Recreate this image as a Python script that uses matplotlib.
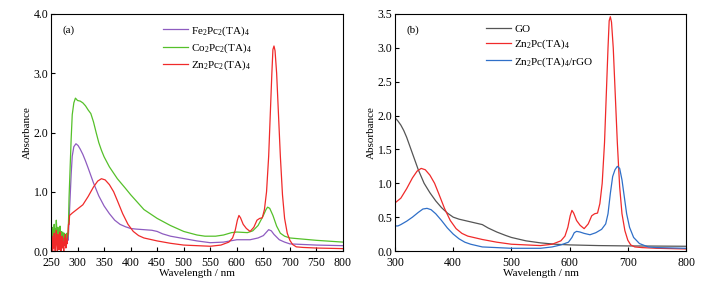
import numpy as np
import matplotlib.pyplot as plt

plt.rcParams["font.family"] = ["Liberation Serif", "DejaVu Serif"]
plt.rcParams["mathtext.fontset"] = "custom"
plt.rcParams["mathtext.rm"] = "Liberation Serif"

# ── Panel (a) data ────────────────────────────────────────────────────────────
wl_noise = [250, 251, 252, 253, 254, 255, 256, 257, 258, 259, 260, 261, 262, 263, 264, 265, 266,
            267, 268, 269, 270, 271, 272, 273, 274, 275, 276, 277, 278, 279, 280, 281, 282, 283]
fe_noise = [0.32, 0.18, 0.25, 0.12, 0.28, 0.2, 0.15, 0.3, 0.22, 0.1, 0.26, 0.33, 0.18, 0.24, 0.12,
            0.3, 0.2, 0.26, 0.14, 0.22, 0.3, 0.12, 0.2, 0.27, 0.15, 0.24, 0.1, 0.22, 0.28, 0.14, 0.2,
            0.26, 0.18, 0.3]
co_noise = [0.55, 0.3, 0.4, 0.22, 0.35, 0.28, 0.45, 0.25, 0.38, 0.3, 0.52, 0.35, 0.28, 0.4, 0.22,
            0.36, 0.3, 0.42, 0.25, 0.33, 0.28, 0.2, 0.32, 0.26, 0.18, 0.3, 0.22, 0.28, 0.2, 0.26,
            0.3, 0.22, 0.28, 0.5]
zn_noise = [0.45, 0.1, 0.25, 0.0, 0.2, 0.05, 0.3, 0.12, 0.0, 0.22, 0.35, 0.1, 0.0, 0.28, 0.15,
            0.02, 0.2, 0.32, 0.08, 0.0, 0.18, 0.25, 0.05, 0.15, 0.0, 0.22, 0.1, 0.28, 0.05, 0.2,
            0.12, 0.25, 0.3, 0.45]

wl_fe = [284, 286, 288, 290, 293, 297, 301, 305, 310, 315, 320, 330, 340, 350, 360, 370, 380, 390,
         400, 410, 425, 440, 450, 460, 475, 500, 525, 550, 575, 600, 625, 640, 650, 655, 660, 665,
         670, 680, 690, 700, 750, 800]
fe_abs = [0.5, 0.9, 1.3, 1.6, 1.76, 1.81, 1.78, 1.72, 1.63, 1.52, 1.4, 1.15, 0.93, 0.76, 0.63, 0.52,
          0.45, 0.41, 0.38, 0.37, 0.36, 0.35, 0.33, 0.29, 0.25, 0.21, 0.17, 0.14, 0.15, 0.19, 0.19,
          0.22, 0.26, 0.31, 0.36, 0.34, 0.28, 0.19, 0.15, 0.12, 0.1, 0.09]

wl_co = [284, 286, 288, 290, 293, 296, 300, 305, 310, 315, 320, 325, 330, 335, 340, 345, 350, 360,
         375, 390, 400, 410, 425, 440, 450, 475, 500, 525, 540, 560, 575, 590, 600, 620, 630, 640,
         650, 655, 658, 662, 668, 675, 682, 690, 700, 725, 750, 800]
co_abs = [0.9, 1.4, 1.9, 2.3, 2.5, 2.58, 2.54, 2.53, 2.5, 2.45, 2.38, 2.32, 2.18, 2.0, 1.83, 1.7,
          1.59, 1.42, 1.22, 1.06, 0.95, 0.85, 0.7, 0.61, 0.55, 0.43, 0.33, 0.27, 0.25, 0.25, 0.27,
          0.31, 0.32, 0.31, 0.34, 0.43, 0.6, 0.7, 0.74, 0.72, 0.6, 0.42, 0.3, 0.25, 0.22, 0.2, 0.18,
          0.15]

wl_zn = [284, 285, 290, 300, 310, 320, 330, 338, 345, 352, 360, 368, 375, 385, 395, 405, 415, 425,
         450, 475, 500, 525, 550, 570, 585, 592, 597, 601, 604, 607, 612, 618, 625, 632, 638, 643,
         648, 652, 656, 660, 663, 666, 668, 670, 672, 675, 678, 682, 686, 690, 695, 700, 705, 712,
         725, 750, 800]
zn_abs = [0.45, 0.6, 0.64, 0.71, 0.78, 0.92, 1.08, 1.18, 1.22, 1.2, 1.12, 1.0, 0.85, 0.63, 0.45,
          0.33, 0.26, 0.22, 0.17, 0.13, 0.1, 0.09, 0.08, 0.1, 0.15, 0.22, 0.35, 0.52, 0.6, 0.56,
          0.45, 0.38, 0.33, 0.4, 0.52, 0.55, 0.56, 0.7, 1.0, 1.6, 2.3, 3.0, 3.4, 3.46, 3.38, 3.0,
          2.4, 1.6, 0.95, 0.55, 0.3, 0.18, 0.11, 0.07, 0.06, 0.05, 0.04]

# ── Panel (b) data ────────────────────────────────────────────────────────────
wl_go = [300, 305, 310, 315, 320, 325, 330, 335, 340, 345, 350, 360, 370, 380, 390, 400, 410, 425,
         440, 450, 460, 475, 490, 500, 525, 550, 575, 600, 650, 700, 800]
go_abs = [1.97, 1.92, 1.86, 1.78, 1.68, 1.56, 1.44, 1.32, 1.2, 1.1, 1.0, 0.86, 0.74, 0.64, 0.56,
          0.5, 0.47, 0.44, 0.41, 0.39, 0.34, 0.28, 0.23, 0.2, 0.15, 0.12, 0.1, 0.09, 0.08, 0.075,
          0.07]

wl_zn_b = [300, 310, 320, 330, 338, 345, 352, 360, 368, 375, 385, 395, 405, 415, 425, 450, 475,
           500, 525, 550, 570, 585, 592, 597, 601, 604, 607, 612, 618, 625, 632, 638, 643, 648,
           652, 656, 660, 663, 666, 668, 670, 672, 675, 678, 682, 686, 690, 695, 700, 705, 712,
           725, 750, 800]
zn_abs_b = [0.71, 0.78, 0.92, 1.08, 1.18, 1.22, 1.2, 1.12, 1.0, 0.85, 0.63, 0.45, 0.33, 0.26,
            0.22, 0.17, 0.13, 0.1, 0.09, 0.08, 0.1, 0.15, 0.22, 0.35, 0.52, 0.6, 0.56, 0.45, 0.38,
            0.33, 0.4, 0.52, 0.55, 0.56, 0.7, 1.0, 1.6, 2.3, 3.0, 3.4, 3.46, 3.38, 3.0, 2.4, 1.6,
            0.95, 0.55, 0.3, 0.16, 0.09, 0.06, 0.05, 0.04, 0.03]

wl_rgo = [300, 305, 310, 320, 330, 340, 348, 355, 362, 370, 380, 390, 400, 410, 420, 430, 450,
          475, 500, 550, 570, 585, 598, 604, 608, 612, 618, 625, 635, 645, 655, 662, 666, 670,
          674, 678, 682, 686, 690, 694, 698, 703, 710, 720, 735, 750, 800]
rgo_abs = [0.37, 0.37, 0.39, 0.44, 0.5, 0.57, 0.62, 0.63, 0.61, 0.55, 0.45, 0.34, 0.25, 0.18,
           0.13, 0.1, 0.06, 0.05, 0.04, 0.04, 0.06, 0.09, 0.13, 0.2, 0.27, 0.29, 0.28, 0.26, 0.24,
           0.27, 0.32, 0.4, 0.55, 0.85, 1.1, 1.2, 1.25, 1.22, 1.05, 0.8, 0.55, 0.35, 0.2, 0.11,
           0.06, 0.05, 0.04]

purple = "#8e5cc0"
green = "#55c02a"
red = "#f02a2a"
gray = "#555555"
blue = "#2f6fc8"

fig = plt.figure(figsize=(7.23, 2.89), dpi=100)
ax_a = fig.add_axes([51 / 723, 1 - 251 / 289, 292 / 723, 237 / 289])
ax_b = fig.add_axes([395 / 723, 1 - 251 / 289, 291 / 723, 237 / 289])

lw = 0.9
ax_a.plot(wl_noise + wl_fe, fe_noise + fe_abs, color=purple, lw=lw, label=r"Fe$_2$Pc$_2$(TA)$_4$")
ax_a.plot(wl_noise + wl_co, co_noise + co_abs, color=green, lw=lw, label=r"Co$_2$Pc$_2$(TA)$_4$")
ax_a.plot(wl_noise + wl_zn, zn_noise + zn_abs, color=red, lw=lw, label=r"Zn$_2$Pc$_2$(TA)$_4$")
ax_a.set_xlim(250, 800)
ax_a.set_ylim(0, 4)
ax_a.set_xticks(np.arange(250, 801, 50))
ax_a.set_yticks(np.arange(0, 4.01, 1.0))
ax_a.yaxis.set_major_formatter(plt.FormatStrFormatter("%.1f"))
ax_a.text(0.04, 0.93, "(a)", transform=ax_a.transAxes, fontsize=8, va="center")
ax_a.legend(loc="upper left", bbox_to_anchor=(0.35, 1.0), frameon=False, fontsize=8,
            handlelength=2.2, labelspacing=0.35, handletextpad=0.3)

ax_b.plot(wl_go, go_abs, color=gray, lw=lw, label="GO")
ax_b.plot(wl_zn_b, zn_abs_b, color=red, lw=lw, label=r"Zn$_2$Pc(TA)$_4$")
ax_b.plot(wl_rgo, rgo_abs, color=blue, lw=lw, label=r"Zn$_2$Pc(TA)$_4$/rGO")
ax_b.set_xlim(300, 800)
ax_b.set_ylim(0, 3.5)
ax_b.set_xticks(np.arange(300, 801, 100))
ax_b.set_yticks(np.arange(0, 3.51, 0.5))
ax_b.yaxis.set_major_formatter(plt.FormatStrFormatter("%.1f"))
ax_b.text(0.04, 0.93, "(b)", transform=ax_b.transAxes, fontsize=8, va="center")
ax_b.legend(loc="upper left", bbox_to_anchor=(0.28, 1.0), frameon=False, fontsize=8,
            handlelength=2.2, labelspacing=0.35, handletextpad=0.3)

for ax in (ax_a, ax_b):
    ax.tick_params(direction="in", length=3, width=0.8, labelsize=8.5)
    ax.tick_params(axis="x", pad=4)
    ax.tick_params(axis="y", pad=2)
    ax.set_xlabel("Wavelength / nm", fontsize=8, labelpad=0)
    ax.set_ylabel("Absorbance", fontsize=8, labelpad=1)
    for s in ax.spines.values():
        s.set_linewidth(0.8)

fig.savefig("out.png", dpi=100)
